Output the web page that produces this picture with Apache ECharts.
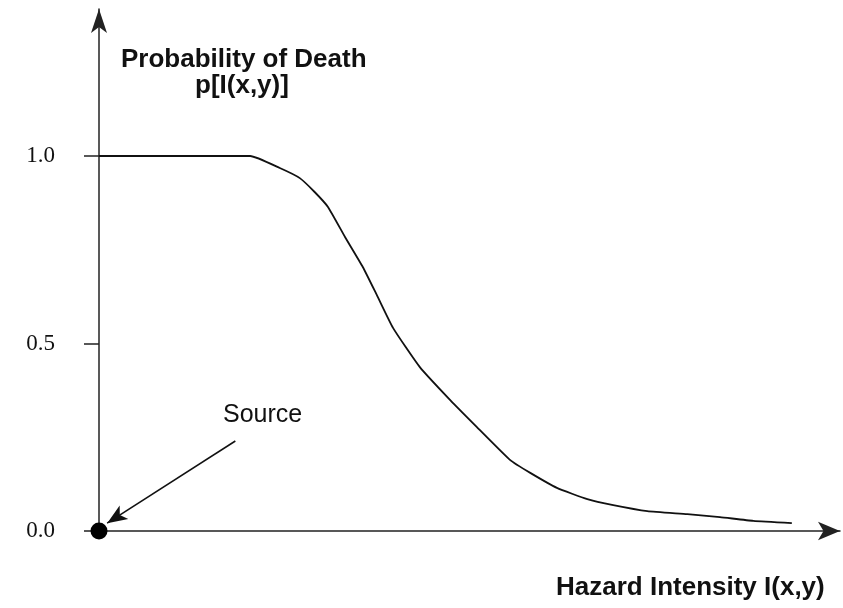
<!DOCTYPE html>
<html>
<head>
<meta charset="utf-8">
<script src="https://cdn.jsdelivr.net/npm/echarts@6/dist/echarts.min.js"></script>
<style>
  html, body { margin: 0; padding: 0; background: #fff; }
  #chart { width: 843px; height: 608px; }
</style>
</head>
<body>
<div id="chart"></div>
<script>
// hazard intensity (arbitrary units, 0..100) and probability of death
var intensity = [0, 20.4, 24.4, 27.1, 29.1, 30.9, 33.2, 35.6, 37.5, 39.7, 43.3, 47.4, 51.0, 55.5, 58.2, 61.8, 65.9, 69.4, 74.0, 79.4, 83.8, 88.3, 93.5];
var probability = [1.0, 1.0, 0.968, 0.941, 0.904, 0.864, 0.784, 0.704, 0.629, 0.541, 0.437, 0.349, 0.277, 0.189, 0.155, 0.115, 0.085, 0.069, 0.053, 0.045, 0.037, 0.027, 0.021];
var yTicks = [0, 0.5, 1.0];
var sourcePoint = [0, 0];
var sourceArrowFrom = [18.4, 0.24];
var sourceArrowTo = [1.1, 0.021];

var curve = intensity.map(function (x, i) { return [x, probability[i]]; });

var myChart = echarts.init(document.getElementById('chart'));
var titleFont = 'bold 26px "Liberation Sans"';
var option = {
    animation: false,
    grid: {
        left: 99,
        right: 3,
        top: 9,
        bottom: 77
    },
    xAxis: {
        type: 'value',
        min: 0,
        max: 100,
        axisLine: {
            show: true,
            symbol: ['none', 'arrow'],
            symbolSize: [14, 22],
            lineStyle: { color: '#222', width: 1.5 }
        },
        axisTick: { show: false },
        axisLabel: { show: false },
        splitLine: { show: false }
    },
    yAxis: {
        type: 'value',
        min: 0,
        max: 1.392,
        axisLine: {
            show: true,
            symbol: ['none', 'arrow'],
            symbolSize: [12, 24],
            lineStyle: { color: '#222', width: 1.5 }
        },
        axisTick: {
            show: true,
            length: 15,
            customValues: yTicks,
            lineStyle: { color: '#222', width: 1.5 }
        },
        axisLabel: {
            customValues: yTicks,
            margin: 44,
            color: '#111',
            fontFamily: 'Liberation Serif',
            fontSize: 23,
            formatter: function (v) { return v.toFixed(1); }
        },
        splitLine: { show: false }
    },
    graphic: [
        {
            type: 'text',
            left: 121,
            top: 47,
            style: { text: 'Probability of Death', font: titleFont, fill: '#111' }
        },
        {
            type: 'text',
            left: 195,
            top: 73,
            style: { text: 'p[I(x,y)]', font: titleFont, fill: '#111' }
        },
        {
            type: 'text',
            left: 223,
            top: 403,
            style: { text: 'Source', font: '25px "Liberation Sans"', fill: '#111' }
        },
        {
            type: 'text',
            left: 556,
            top: 575,
            style: { text: 'Hazard Intensity I(x,y)', font: titleFont, fill: '#111' }
        }
    ],
    series: [
        {
            name: 'p',
            type: 'line',
            data: curve,
            smooth: 0.15,
            showSymbol: false,
            lineStyle: { color: '#111', width: 1.8 },
            markLine: {
                silent: true,
                symbol: ['none', 'arrow'],
                symbolSize: [12, 20],
                label: { show: false },
                lineStyle: { color: '#111', width: 1.5, type: 'solid' },
                data: [[
                    { coord: sourceArrowFrom },
                    { coord: sourceArrowTo }
                ]]
            }
        },
        {
            name: 'source',
            type: 'scatter',
            data: [sourcePoint],
            symbolSize: 17,
            itemStyle: { color: '#000', opacity: 1 },
            z: 5
        }
    ]
};
myChart.setOption(option);
</script>
</body>
</html>
